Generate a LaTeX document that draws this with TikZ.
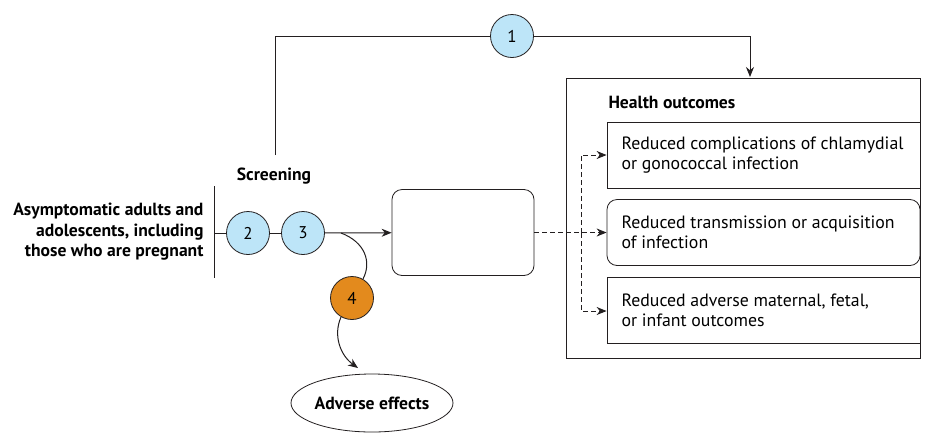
\documentclass[tikz,border=0pt]{standalone}
\usepackage{fontspec}
\setmainfont{PT Sans}
\usetikzlibrary{arrows.meta,shapes.geometric}
\definecolor{kqblue}{HTML}{BDE5F8}
\definecolor{kqorange}{HTML}{E38A1D}
\definecolor{linegray}{HTML}{231F20}
\tikzset{
  kq/.style={circle,draw=linegray,line width=0.8pt,minimum size=43pt,inner sep=0pt,font=\fontsize{17}{20}\selectfont},
  conn/.style={draw=linegray,line width=1pt},
  tip/.style={-{Stealth[length=10pt,width=8pt]}},
  dconn/.style={conn,dashed,dash pattern=on 5pt off 3pt},
  outbox/.style={draw=linegray,line width=0.8pt,minimum width=313pt,minimum height=66pt,inner sep=0pt},
  btext/.style={font=\fontsize{17.6}{20.5}\selectfont\bfseries},
  rtext/.style={font=\fontsize{17.8}{20}\selectfont,align=left,anchor=west},
}
\begin{document}
\begin{tikzpicture}[x=1pt,y=-1pt]
\useasboundingbox (0,0) rectangle (929,432);
% outer health outcomes box
\node[draw=linegray,line width=0.8pt,minimum width=354pt,minimum height=280pt,inner sep=0pt] (outer) at (743,218) {};
\node[btext,anchor=west] (ho) at (605,102) {Health outcomes};
\node[outbox] (oa) at (763.5,155) {};
\node[outbox,rounded corners=10pt] (ob) at (763.5,232.5) {};
\node[outbox] (oc) at (763.5,310) {};
\node[rtext] at (618,155) {Reduced complications of chlamydial\\or gonococcal infection};
\node[rtext] at (618,232.5) {Reduced transmission or acquisition\\of infection};
\node[rtext] at (618,310) {Reduced adverse maternal, fetal,\\or infant outcomes};
% intermediate box
\node[draw=linegray,line width=0.8pt,rounded corners=10pt,minimum width=142pt,minimum height=86pt,inner sep=0pt] (mid) at (463,232.5) {};
% population
\node[btext,align=right,anchor=east] (pop) at (207,232) {Asymptomatic adults and\\adolescents, including\\those who are pregnant};
\coordinate (bart) at (214,186);
\coordinate (barb) at (214,278);
\draw[conn] (bart) -- (barb);
\coordinate (barm) at (214,233);
% key questions
\node[kq,fill=kqblue] (k1) at (512,36) {1};
\node[kq,fill=kqblue] (k2) at (248,233) {2};
\node[kq,fill=kqblue] (k3) at (303,233) {3};
\node[kq,fill=kqorange] (k4) at (352,298) {4};
\node[btext] (scr) at (274,176) {Screening};
\coordinate (topl) at (275,155);
\coordinate (topc) at (275,36);
\coordinate (topr) at (750,36);
\coordinate (topend) at (750,77);
\draw[conn] (topl) -- (topc) -- (k1);
\draw[conn,tip] (k1) -- (topr) -- (topend);
\draw[conn] (barm) -- (k2);
\draw[conn] (k2) -- (k3);
\draw[conn,tip] (k3) -- (mid);
\coordinate (branch) at (341,233);
\draw[conn] (branch) .. controls (365,242) and (372,262) .. (k4.60);
% adverse effects
\node[draw=linegray,line width=0.8pt,ellipse,minimum width=162pt,minimum height=58pt,inner sep=0pt,btext] (ae) at (372,403) {Adverse effects};
\draw[conn,tip] (k4.240) .. controls (333,335) and (340,355) .. (358,368);
% dashed connectors
\coordinate (dj) at (581,233);
\coordinate (dtop) at (581,155);
\coordinate (dbot) at (581,311);
\draw[dconn,tip] (mid) -- (ob);
\draw[dconn,tip] (dj) -- (dtop) -- (oa.west);
\draw[dconn,tip] (dj) -- (dbot) -- (oc.west |- dbot);
\end{tikzpicture}
\end{document}
